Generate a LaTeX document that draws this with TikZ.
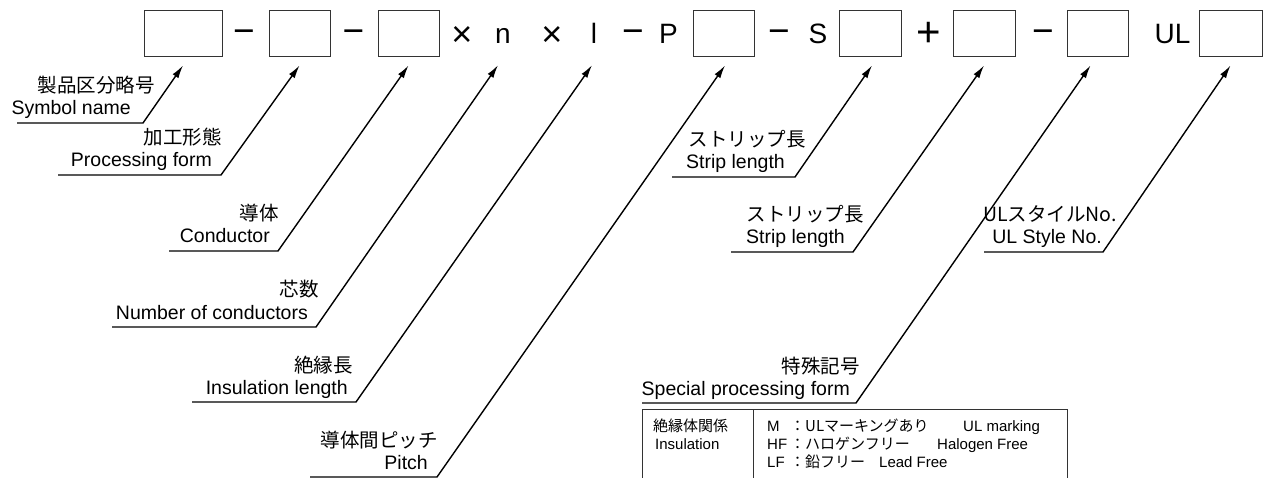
\documentclass[tikz,border=0pt]{standalone}
\usepackage{fontspec}
\setmainfont{Liberation Sans}
\newfontfamily\jp{Noto Sans CJK JP}
\usetikzlibrary{arrows.meta}

\begin{document}
\begin{tikzpicture}[x=1pt,y=-1pt,
	casilla/.style={draw=black!80,line width=1pt,minimum height=46pt,inner sep=0pt},
	signo/.style={minimum height=46pt,inner sep=0pt,text height=20pt,text depth=0pt,font=\fontsize{28}{30}\selectfont},
	menos/.style={signo,font=\fontsize{37}{40}\selectfont},
	por/.style={signo,font=\fontsize{36}{40}\selectfont},
	mas/.style={signo,font=\fontsize{42}{46}\selectfont},
	guia/.style={line width=1.4pt,-{Latex[length=13pt,width=7pt]}},
	en/.style={anchor=base east,inner sep=0pt,font=\fontsize{19.5}{24}\selectfont},
	ja/.style={anchor=base east,inner sep=0pt,font=\jp\fontsize{19.5}{24}\selectfont},
	tabla/.style={anchor=base west,inner sep=0pt,font=\fontsize{15}{18}\selectfont},
	tablaja/.style={anchor=base west,inner sep=0pt,font=\jp\fontsize{15}{18}\selectfont}]
			\useasboundingbox (0,0) rectangle (1263,478);
			%fila de casillas
			\node[casilla,minimum width=78pt] (c1) at (183,34) {};
			\node[menos] (g1) at (244,34) {−};
			\node[casilla,minimum width=61pt] (c2) at (299.5,34) {};
			\node[menos] (g2) at (353.5,34) {−};
			\node[casilla,minimum width=61pt] (c3) at (408.5,34) {};
			\node[por] (x1) at (462,37) {×};
			\node[signo] (n) at (503,34) {n};
			\node[por] (x2) at (552,37) {×};
			\node[signo] (l) at (594,34) {l};
			\node[menos] (g3) at (633,34) {−};
			\node[signo] (p) at (668.5,34) {P};
			\node[casilla,minimum width=61pt] (c4) at (723.5,34) {};
			\node[menos] (g4) at (779,34) {−};
			\node[signo] (s) at (818,34) {S};
			\node[casilla,minimum width=62pt] (c5) at (870,34) {};
			\node[mas] (m1) at (929,37) {+};
			\node[casilla,minimum width=62pt] (c6) at (984,34) {};
			\node[menos] (g5) at (1043,34) {−};
			\node[casilla,minimum width=61pt] (c7) at (1097.5,34) {};
			\node[signo] (ul) at (1172.5,34) {UL};
			\node[casilla,minimum width=63pt] (c8) at (1230.5,34) {};
			%etiquetas
			\node[ja] (j1) at (155,93) {製品区分略号};
			\node[en] (e1) at (131,115) {Symbol name};
			\node[ja] (j2) at (222,145) {加工形態};
			\node[en] (e2) at (212,167) {Processing form};
			\node[ja] (j3) at (279,221) {導体};
			\node[en] (e3) at (270,243) {Conductor};
			\node[ja] (j4) at (319,297) {芯数};
			\node[en] (e4) at (308,319) {Number of conductors};
			\node[ja] (j5) at (353,372) {絶縁長};
			\node[en] (e5) at (348,394) {Insulation length};
			\node[ja] (j6) at (438,447) {導体間ピッチ};
			\node[en] (e6) at (428,469) {Pitch};
			\node[ja] (j7) at (806,147) {ストリップ長};
			\node[en] (e7) at (785,169) {Strip length};
			\node[ja] (j8) at (864,222) {ストリップ長};
			\node[en] (e8) at (845,244) {Strip length};
			\node[ja] (j9) at (860,373) {特殊記号};
			\node[en] (e9) at (850,395) {Special processing form};
			\node[ja] (j10) at (1117,222) {ULスタイルNo.};
			\node[en] (e10) at (1102,244) {UL Style No.};
			%lineas guia
			\coordinate (u1) at (17,123);  \coordinate (k1) at (143,123);
			\coordinate (u2) at (58,175);  \coordinate (k2) at (221,175);
			\coordinate (u3) at (169,251); \coordinate (k3) at (278,251);
			\coordinate (u4) at (112,327); \coordinate (k4) at (316,327);
			\coordinate (u5) at (192,402); \coordinate (k5) at (356,402);
			\coordinate (u6) at (310,477); \coordinate (k6) at (437,477);
			\coordinate (u7) at (672,177); \coordinate (k7) at (795,177);
			\coordinate (u8) at (731,252); \coordinate (k8) at (853,252);
			\coordinate (u9) at (642,403); \coordinate (k9) at (856,403);
			\coordinate (u10) at (984,252); \coordinate (k10) at (1103,252);
			\draw[guia] (u1) -- (k1) -- ([yshift=-8pt]c1.south);
			\draw[guia] (u2) -- (k2) -- ([yshift=-8pt]c2.south);
			\draw[guia] (u3) -- (k3) -- ([yshift=-8pt]c3.south);
			\draw[guia] (u4) -- (k4) -- ([xshift=-5pt,yshift=-8pt]n.south);
			\draw[guia] (u5) -- (k5) -- ([xshift=-2pt,yshift=-8pt]l.south);
			\draw[guia] (u6) -- (k6) -- ([xshift=1.5pt,yshift=-8pt]c4.south);
			\draw[guia] (u7) -- (k7) -- ([xshift=2pt,yshift=-8pt]c5.south);
			\draw[guia] (u8) -- (k8) -- ([yshift=-8pt]c6.south);
			\draw[guia] (u9) -- (k9) -- ([xshift=-7pt,yshift=-8pt]c7.south);
			\draw[guia] (u10) -- (k10) -- ([yshift=-8pt]c8.south);
			%tabla
			\draw[line width=1pt,black!80] (642.5,478) |- (1067.5,409) -- (1067.5,478);
			\draw[line width=1pt,black!80] (753,409) -- (753,478);
			\node[tablaja] (t1) at (653,431) {絶縁体関係};
			\node[tabla] (t2) at (655,449) {Insulation};
			\node[tabla] (t3) at (767,431) {M};
			\node[tabla] (t4) at (767,449) {HF};
			\node[tabla] (t5) at (767,467) {LF};
			\node[tablaja] (t6) at (790,431) {：ULマーキングあり};
			\node[tablaja] (t7) at (790,449) {：ハロゲンフリー};
			\node[tablaja] (t8) at (790,467) {：鉛フリー};
			\node[tabla] (t9) at (963,431) {UL marking};
			\node[tabla] (t10) at (937,449) {Halogen Free};
			\node[tabla] (t11) at (879,467) {Lead Free};
		\end{tikzpicture}
\end{document}
